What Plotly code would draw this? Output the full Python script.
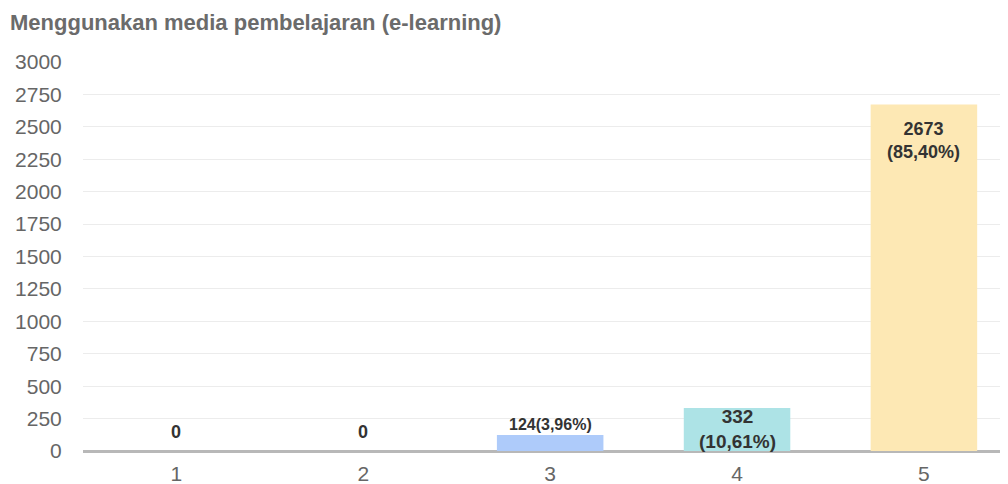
import plotly.graph_objects as go

title = "Menggunakan media pembelajaran (e-learning)"
categories = ["1", "2", "3", "4", "5"]
counts = [0, 0, 124, 332, 2673]
labels = ["0", "0", "124(3,96%)", "332<br>(10,61%)", "2673<br>(85,40%)"]
bar_colors = ["#aecbfa", "#aecbfa", "#aecbfa", "#ade3e6", "#fde8b4"]
y_ticks = list(range(0, 3001, 250))

FONT = "Liberation Sans, Arial, sans-serif"

# label styling per bar: (anchor, yshift, font size)
label_style = [
    ("bottom", 7, 18),
    ("bottom", 7, 18),
    ("bottom", 0, 16),
    ("top", 4, 19),
    ("top", -13, 18),
]

fig = go.Figure()
fig.add_trace(go.Bar(
    x=list(range(len(categories))),
    y=counts,
    marker=dict(color=bar_colors, line=dict(width=0)),
    width=0.57,
    hoverinfo="skip",
))

for i, (v, t) in enumerate(zip(counts, labels)):
    anchor, shift, size = label_style[i]
    fig.add_annotation(x=i, y=v, text=f"<b>{t}</b>", showarrow=False,
                       yanchor=anchor, yshift=shift,
                       font=dict(family=FONT, size=size, color="#333"))

# page body adds an 8px offset, so the figure is 1000x476
fig.update_layout(
    width=1000, height=476,
    margin=dict(l=75, r=0, t=54, b=33, autoexpand=False),
    plot_bgcolor="white", paper_bgcolor="white",
    showlegend=False,
    title=dict(text=f"<b>{title}</b>", x=2 / 1000, xanchor="left",
               y=1 - 14 / 476, yanchor="middle",
               font=dict(family=FONT, size=22, color="#6b6b6b")),
)
fig.update_xaxes(
    range=[-0.5, 4.45], automargin=False,
    tickvals=list(range(len(categories))), ticktext=categories,
    tickfont=dict(family=FONT, size=21, color="#666"),
    showgrid=False, zeroline=False, showline=False,
    ticks="outside", ticklen=4, tickcolor="rgba(0,0,0,0)",
)
fig.update_yaxes(
    range=[0, 3000], automargin=False,
    tickvals=y_ticks,
    tickfont=dict(family=FONT, size=21, color="#666"),
    gridcolor="#ececec", gridwidth=1,
    zeroline=True, zerolinecolor="#b8b8b8", zerolinewidth=3,
    showline=False, ticks="outside", ticklen=16, tickcolor="rgba(0,0,0,0)",
)

fig.write_html("out.html")
